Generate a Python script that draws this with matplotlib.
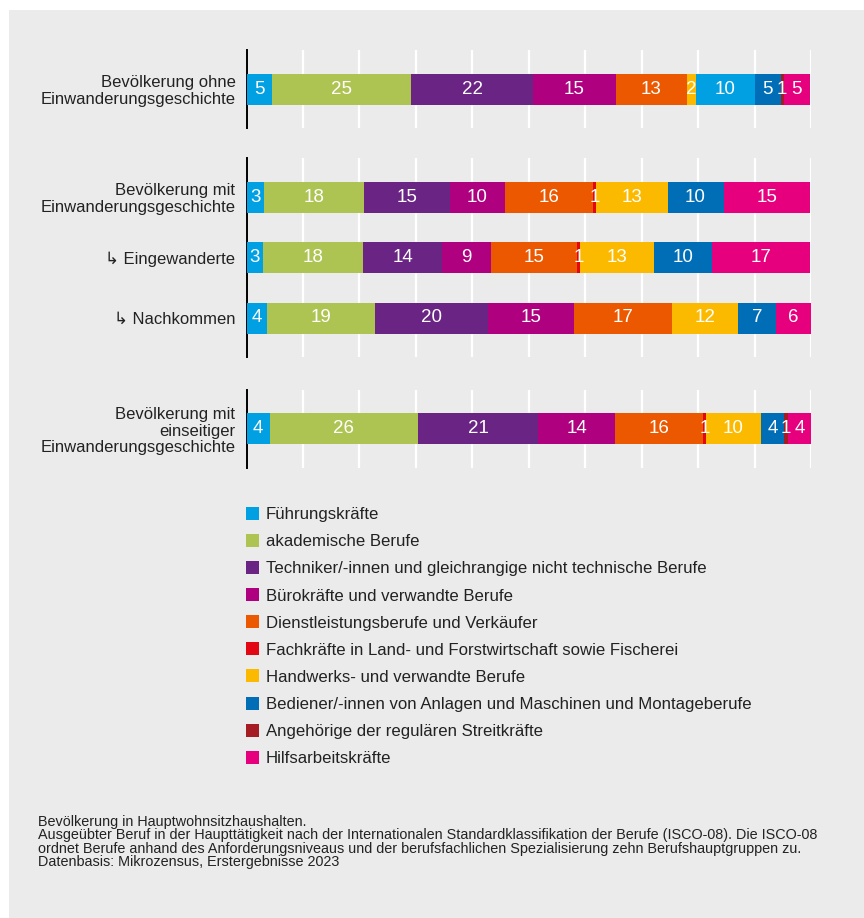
import matplotlib
matplotlib.use("Agg")
import matplotlib.pyplot as plt
from matplotlib.patches import Rectangle

plt.rcParams['font.family'] = ['Liberation Sans', 'DejaVu Sans']

# ---- data ----
groups = [
    "Bevölkerung ohne\nEinwanderungsgeschichte",
    "Bevölkerung mit\nEinwanderungsgeschichte",
    "↳ Eingewanderte",
    "↳ Nachkommen",
    "Bevölkerung mit\neinseitiger\nEinwanderungsgeschichte",
]
occupations = [
    "Führungskräfte",
    "akademische Berufe",
    "Techniker/-innen und gleichrangige nicht technische Berufe",
    "Bürokräfte und verwandte Berufe",
    "Dienstleistungsberufe und Verkäufer",
    "Fachkräfte in Land- und Forstwirtschaft sowie Fischerei",
    "Handwerks- und verwandte Berufe",
    "Bediener/-innen von Anlagen und Maschinen und Montageberufe",
    "Angehörige der regulären Streitkräfte",
    "Hilfsarbeitskräfte",
]
fuehrung   = [4.6, 3.1, 2.9, 3.6, 4.1]
akademisch = [24.6, 17.7, 17.8, 19.1, 26.3]
techniker  = [21.6, 15.2, 14.0, 20.0, 21.3]
buero      = [14.6, 9.8, 8.6, 15.3, 13.6]
dienst     = [12.6, 15.6, 15.2, 17.4, 15.6]
fach       = [1.6, 0.6, 0.6, 0.0, 0.5]
handwerk   = [10.4, 12.6, 13.0, 11.6, 9.7]
bediener   = [4.6, 9.9, 10.4, 6.8, 4.1]
streit     = [0.6, 0.0, 0.0, 0.0, 0.7]
hilfs      = [4.6, 15.4, 17.4, 6.2, 4.2]
series = [fuehrung, akademisch, techniker, buero, dienst, fach, handwerk, bediener, streit, hilfs]

footnote = ("Bevölkerung in Hauptwohnsitzhaushalten.\n"
            "Ausgeübter Beruf in der Haupttätigkeit nach der Internationalen Standardklassifikation der Berufe (ISCO-08). Die ISCO-08\n"
            "ordnet Berufe anhand des Anforderungsniveaus und der berufsfachlichen Spezialisierung zehn Berufshauptgruppen zu.\n"
            "Datenbasis: Mikrozensus, Erstergebnisse 2023")

# ---- style ----
colors = ["#00a0e3", "#adc453", "#692484", "#ae007f", "#ec5800",
          "#e30613", "#fbb900", "#006eb7", "#a51d22", "#e6007e"]
# the reference colours two segments of the first row differently
colour_override = {0: {5: "#fbb900", 6: "#00a0e3"}}
BG = "#ebebeb"
TXT = "#222222"
facets = [[0], [1, 2, 3], [4]]

W, H = 864, 918
fig = plt.figure(figsize=(W / 100, H / 100), dpi=100, facecolor="white")
fig.patches.append(Rectangle((9 / W, 0), 1, 1 - 10 / H, transform=fig.transFigure,
                             facecolor=BG, edgecolor="none", zorder=-10))

left_px, right_px = 246.5, 811
pad = 39.0          # px above first / below last bar centre
step = 60.5         # px between bar centres
top_px = [50, 158, 390]

for fi, rows in enumerate(facets):
    n = len(rows)
    h_px = 2 * pad + (n - 1) * step
    t = top_px[fi]
    ax = fig.add_axes([left_px / W, 1 - (t + h_px) / H, (right_px - left_px) / W, h_px / H])
    ax.set_facecolor(BG)
    ypos = list(range(n))
    for k in range(n):
        r = rows[k]
        start = 0.0
        for si, s in enumerate(series):
            v = s[r]
            if v <= 0:
                continue
            c = colour_override.get(r, {}).get(si, colors[si])
            ax.barh(k, v, left=start, height=31 / step, color=c, edgecolor="none", zorder=3)
            ax.text(start + v / 2, k, str(int(v + 0.5)), ha="center", va="center",
                    color="white", fontsize=13.5, zorder=4)
            start += v
    padu = pad / step
    ax.set_ylim(n - 1 + padu, -padu)
    ax.set_xlim(0, 100)
    ax.set_xticks(range(10, 101, 10))
    ax.tick_params(axis="x", length=0, labelbottom=False)
    ax.grid(axis="x", color="white", linewidth=1.6, zorder=1)
    ax.set_axisbelow(True)
    ax.set_yticks(ypos)
    ax.set_yticklabels([groups[r] for r in rows], fontsize=12, color=TXT,
                       linespacing=1.12)
    ax.tick_params(axis="y", length=0, pad=8)
    for sp in ["top", "right", "bottom"]:
        ax.spines[sp].set_visible(False)
    ax.spines["left"].set_linewidth(1.4)
    ax.spines["left"].set_color("black")

# ---- legend ----
leg_y0, leg_dy = 513.3, 27.1
for i, (lab, c) in enumerate(zip(occupations, colors)):
    yc = leg_y0 + i * leg_dy
    fig.patches.append(Rectangle((246 / W, 1 - (yc + 6.5) / H), 13 / W, 13 / H,
                                 transform=fig.transFigure, facecolor=c, edgecolor="none"))
    fig.text(266 / W, 1 - yc / H, lab, ha="left", va="center_baseline", fontsize=12.1,
             color=TXT)

fig.text(38 / W, 1 - 815 / H, footnote, ha="left", va="top", fontsize=10.4,
         color=TXT, linespacing=0.95)

fig.savefig("out.png", dpi=100, facecolor=fig.get_facecolor())
